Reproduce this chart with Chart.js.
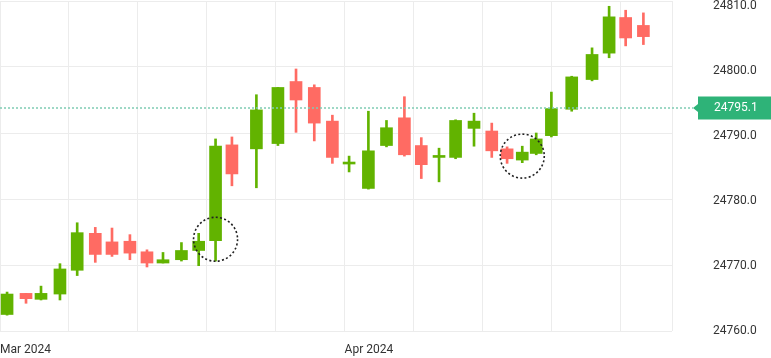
<!DOCTYPE html>
<html>
<head>
<meta charset="utf-8">
<script src="https://cdn.jsdelivr.net/npm/chart.js@4.4.1/dist/chart.umd.min.js"></script>
<style>
  html, body { margin: 0; padding: 0; background: #fff; }
</style>
</head>
<body>
<canvas id="myChart" width="771" height="358"></canvas>
<script>
// posicion de cada vela en x (una linea de rejilla cada 4 unidades)
var candleSlots = [0.41, 1.51, 2.38, 3.48, 4.48, 5.53, 6.5, 7.54, 8.53, 9.46, 10.53, 11.53, 12.51, 13.46,
  14.88, 16.13, 17.18, 18.24, 19.29, 20.26, 21.38, 22.43, 23.47, 24.45, 25.48, 26.44, 27.51, 28.54,
  29.43, 30.31, 31.12, 32.0, 33.18, 34.36, 35.35, 36.31, 37.34];

var opens = [24762.5, 24765.7, 24764.8, 24765.6, 24769.2, 24774.8, 24773.5, 24773.6, 24772.0, 24770.3,
  24770.8, 24772.2, 24773.7, 24788.2, 24787.6, 24788.4, 24797.8, 24796.9, 24791.8, 24785.3, 24781.6,
  24788.1, 24792.3, 24788.1, 24786.3, 24786.3, 24790.7, 24790.3, 24787.6, 24785.9, 24786.9, 24789.6,
  24793.6, 24798.1, 24802.1, 24807.5, 24806.3];
var highs = [24765.9, 24765.7, 24766.8, 24770.2, 24776.4, 24775.7, 24775.6, 24774.6, 24772.3, 24771.9,
  24773.4, 24774.8, 24789.1, 24789.4, 24795.8, 24796.9, 24799.7, 24797.3, 24792.7, 24786.5, 24793.3,
  24791.9, 24795.5, 24789.3, 24787.7, 24792.0, 24793.0, 24791.5, 24787.9, 24788.0, 24790.0, 24796.2,
  24798.6, 24802.9, 24809.2, 24808.6, 24808.2];
var lows = [24762.4, 24764.2, 24764.7, 24764.7, 24768.4, 24770.4, 24771.3, 24770.8, 24769.7, 24770.3,
  24770.6, 24769.9, 24770.6, 24782.0, 24781.7, 24788.1, 24790.1, 24788.8, 24785.4, 24784.1, 24781.5,
  24787.9, 24786.5, 24783.1, 24782.6, 24786.1, 24788.0, 24786.3, 24785.4, 24785.5, 24786.7, 24789.4,
  24793.3, 24797.9, 24801.4, 24803.2, 24803.4];
var closes = [24765.6, 24764.9, 24765.7, 24769.4, 24774.9, 24771.6, 24771.6, 24771.8, 24770.3, 24770.8,
  24772.2, 24773.6, 24788.0, 24783.8, 24793.5, 24796.9, 24795.0, 24791.5, 24786.3, 24785.6, 24787.3,
  24790.8, 24786.7, 24785.2, 24786.6, 24791.9, 24791.8, 24787.3, 24786.1, 24787.1, 24789.1, 24793.7,
  24798.5, 24801.9, 24807.6, 24804.4, 24804.6];

// eje x
var gridSlots = [0, 4, 8, 12, 16, 20, 24, 28, 32, 36, 39];
var monthTicks = [0, 20];
var monthLabels = ['Mar 2024', 'Apr 2024'];

// eje y
var yMin = 24760;
var yMax = 24810;
var yStep = 10;

// precio actual
var lastPrice = 24795.1;
var priceLineLevel = 24793.8;

// velas marcadas con circulo
var circledCandles = [12, 29];
var circleLevels = [24773.9, 24786.5];

var upColor = '#62b300';
var downColor = '#ff6b63';
var gridColor = '#ececec';

var colors = opens.map((o, i) => closes[i] >= o ? upColor : downColor);
var wicks = candleSlots.map((x, i) => ({ x: x, y: [lows[i], highs[i]] }));
var bodies = candleSlots.map((x, i) => ({ x: x, y: [opens[i], closes[i]] }));

Chart.defaults.font.family = 'Roboto';

var priceLinePlugin = {
  id: 'priceLine',
  afterDatasetsDraw(chart) {
    var c = chart.ctx;
    var area = chart.chartArea;
    var y = chart.scales.y.getPixelForValue(priceLineLevel);
    var tipX = area.right + 21;
    c.save();
    c.strokeStyle = '#7fcbb3';
    c.lineWidth = 1.5;
    c.setLineDash([2, 2]);
    c.beginPath();
    c.moveTo(area.left, y);
    c.lineTo(tipX, y);
    c.stroke();
    c.setLineDash([]);
    c.fillStyle = '#2eb378';
    c.beginPath();
    c.moveTo(tipX, y);
    c.lineTo(tipX + 5, y - 4);
    c.lineTo(tipX + 5, y - 11.5);
    c.lineTo(chart.width, y - 11.5);
    c.lineTo(chart.width, y + 11.5);
    c.lineTo(tipX + 5, y + 11.5);
    c.lineTo(tipX + 5, y + 4);
    c.closePath();
    c.fill();
    c.fillStyle = '#ffffff';
    c.font = '12px Roboto';
    c.textAlign = 'left';
    c.textBaseline = 'middle';
    c.fillText(lastPrice.toFixed(1), area.right + 42, y + 0.5);
    c.restore();
  }
};

var circlesPlugin = {
  id: 'circles',
  afterDatasetsDraw(chart) {
    var c = chart.ctx;
    c.save();
    c.strokeStyle = '#222';
    c.lineWidth = 1.6;
    c.setLineDash([2, 2.3]);
    circledCandles.forEach((idx, k) => {
      var cx = chart.scales.x.getPixelForValue(candleSlots[idx]);
      var cy = chart.scales.y.getPixelForValue(circleLevels[k]);
      c.beginPath();
      c.arc(cx, cy, 22, 0, Math.PI * 2);
      c.stroke();
    });
    c.restore();
  }
};

var ctx = document.getElementById('myChart').getContext('2d');
var chart = new Chart(ctx, {
  type: 'bar',
  data: {
    datasets: [
      { label: 'wick', data: wicks, backgroundColor: colors, barThickness: 2, grouped: false, borderWidth: 0, order: 2 },
      { label: 'body', data: bodies, backgroundColor: colors, barThickness: 12, grouped: false, borderWidth: 0, order: 1 }
    ]
  },
  options: {
    responsive: false,
    animation: false,
    layout: { padding: { top: 1 } },
    plugins: { legend: { display: false }, tooltip: { enabled: false } },
    scales: {
      x: {
        type: 'linear',
        min: 0,
        max: 39,
        offset: false,
        afterBuildTicks: s => { s.ticks = gridSlots.map(v => ({ value: v })); },
        grid: { color: gridColor, drawTicks: false, offset: false },
        border: { display: false },
        ticks: {
          align: 'start',
          padding: 12,
          maxRotation: 0,
          autoSkip: false,
          color: '#333',
          font: { size: 12 },
          callback: v => { var k = monthTicks.indexOf(v); return k >= 0 ? monthLabels[k] : ''; }
        },
        afterFit: s => { s.height = 27; s.paddingLeft = 0; s.paddingRight = 0; }
      },
      y: {
        position: 'right',
        min: yMin,
        max: yMax,
        ticks: { stepSize: yStep, display: false },
        grid: { color: gridColor, drawTicks: false },
        border: { display: false },
        afterFit: s => { s.width = 0; s.paddingTop = 0; s.paddingBottom = 0; }
      },
      yl: {
        position: 'right',
        min: yMin,
        max: yMax + 0.77,
        grid: { display: false, drawTicks: false },
        border: { display: false },
        ticks: {
          stepSize: yStep,
          includeBounds: false,
          padding: 41,
          color: '#333',
          font: { size: 12 },
          callback: v => v.toFixed(1)
        },
        afterFit: s => { s.width = 99; s.paddingTop = 0; s.paddingBottom = 0; }
      }
    }
  },
  plugins: [priceLinePlugin, circlesPlugin]
});
</script>
</body>
</html>
